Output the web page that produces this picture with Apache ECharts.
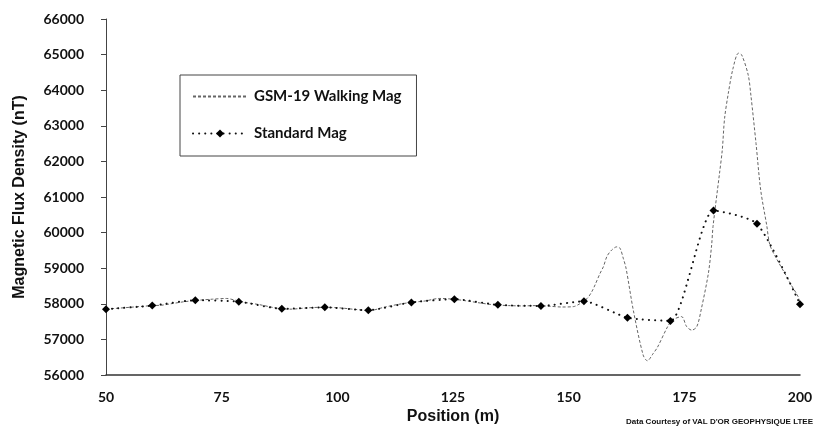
<!DOCTYPE html>
<html>
<head>
<meta charset="utf-8">
<script src="https://cdn.jsdelivr.net/npm/echarts@6/dist/echarts.min.js"></script>
<style>
html,body{margin:0;padding:0;background:#fff;}
#chart{width:819px;height:433px;}
</style>
</head>
<body>
<div id="chart"></div>
<script>
// Standard Mag stations (m) and readings (nT)
const stdPos = [50, 60, 69.3, 78.7, 88, 97.3, 106.7, 116, 125.3, 134.7, 144, 153.3, 162.7, 172, 181.3, 190.7, 200];
const stdVal = [57850, 57950, 58100, 58060, 57860, 57900, 57820, 58040, 58130, 57970, 57940, 58070, 57610, 57520, 60620, 60250, 57990];

// GSM-19 Walking Mag profile (m, nT)
const walkPos = [50, 52, 55, 58, 60, 62, 64, 67, 70, 73, 76, 78, 80, 83, 86, 88, 90, 93, 96, 98, 101, 104, 107, 110, 113, 116, 119, 122, 125, 128, 131, 134, 137, 140, 143, 146, 148.5, 151, 152.4, 154, 155, 155.7, 156.8, 157.5, 158.3, 159.3, 160.4, 161.1, 161.8, 162.4, 164, 166.1, 167, 168.3, 169.2, 171.4, 172.5, 174.4, 175.5, 176.6, 177.7, 178.7, 180.2, 180.9, 181.2, 182.6, 183.2, 183.7, 184.5, 185.5, 186.7, 187.4, 188.8, 189.4, 190.5, 191.5, 192.8, 193.5, 195, 196.7, 198, 199.6, 200];
const walkVal = [57850, 57870, 57900, 57930, 57950, 57960, 58000, 58060, 58100, 58130, 58150, 58100, 58040, 57980, 57900, 57860, 57850, 57880, 57900, 57900, 57880, 57840, 57810, 57900, 57980, 58040, 58080, 58150, 58130, 58080, 58020, 57970, 57950, 57940, 57950, 57930, 57910, 57920, 58000, 58150, 58340, 58530, 58860, 59040, 59340, 59510, 59600, 59560, 59280, 59000, 57800, 56560, 56400, 56610, 56780, 57360, 57550, 57640, 57360, 57260, 57360, 57870, 58860, 59650, 60170, 61660, 62320, 63210, 63910, 64600, 65040, 64990, 64430, 63840, 62500, 61200, 60210, 59650, 59250, 58860, 58550, 58200, 58000];

// Axis settings
const xMin = 50, xMax = 200, xStep = 25;
const yMin = 56000, yMax = 66000, yStep = 1000;

const seriesNames = ['GSM-19 Walking Mag', 'Standard Mag'];
const yTitle = 'Magnetic Flux Density (nT)';
const xTitle = 'Position (m)';
const credit = "Data Courtesy of VAL D'OR GEOPHYSIQUE LTEE";

const zip = (a, b) => a.map((v, i) => [v, b[i]]);

const chart = echarts.init(document.getElementById('chart'), null, {renderer: 'canvas'});
const tickFont = {fontFamily: 'Lato', fontWeight: 'bold', fontSize: 14, color: '#111'};

chart.setOption({
  animation: false,
  backgroundColor: '#fff',
  grid: {left: 106, right: 19, top: 19, bottom: 58},
  legend: {
    orient: 'vertical',
    left: 180, top: 75,
    padding: [14, 15, 15, 12],
    itemGap: 22,
    itemWidth: 54,
    itemHeight: 10,
    backgroundColor: '#fff',
    borderColor: '#444',
    borderWidth: 1,
    textStyle: {fontFamily: 'Lato', fontWeight: 'bold', fontSize: 15, color: '#111', padding: [0, 0, 0, 2]},
    data: [
      {name: seriesNames[0], itemStyle: {opacity: 0}},
      {name: seriesNames[1]}
    ]
  },
  xAxis: {
    type: 'value', min: xMin, max: xMax, interval: xStep,
    name: xTitle, nameLocation: 'middle', nameGap: 33,
    nameTextStyle: {fontFamily: 'Liberation Sans', fontWeight: 'bold', fontSize: 16, color: '#111'},
    axisLine: {lineStyle: {color: '#333', width: 1.5}},
    axisTick: {show: false},
    axisLabel: Object.assign({margin: 15}, tickFont),
    splitLine: {show: false}
  },
  yAxis: {
    type: 'value', min: yMin, max: yMax, interval: yStep,
    name: yTitle, nameLocation: 'middle', nameGap: 78, nameRotate: 90,
    nameTextStyle: {fontFamily: 'Liberation Sans', fontWeight: 'bold', fontSize: 16, color: '#111'},
    axisLine: {show: true, lineStyle: {color: '#444', width: 1}},
    axisTick: {show: true, length: 5, lineStyle: {color: '#444'}},
    axisLabel: Object.assign({margin: 22, formatter: v => String(v)}, tickFont),
    splitLine: {show: false}
  },
  series: [
    {
      name: seriesNames[0], type: 'line',
      data: zip(walkPos, walkVal),
      symbol: 'none', smooth: 0.3,
      lineStyle: {color: '#666', width: 1, type: [3, 2]},
      itemStyle: {color: '#666'},
      z: 2
    },
    {
      name: seriesNames[1], type: 'line',
      data: zip(stdPos, stdVal),
      symbol: 'diamond', symbolSize: 8, smooth: 0.2,
      lineStyle: {color: '#111', width: 2, type: [0.1, 6], cap: 'round'},
      itemStyle: {color: '#000'},
      z: 3
    }
  ],
  graphic: [{
    type: 'text', right: 6, top: 418,
    style: {text: credit, fontFamily: 'Liberation Sans', fontWeight: 'bold', fontSize: 8, fill: '#111'}
  }]
});
</script>
</body>
</html>
